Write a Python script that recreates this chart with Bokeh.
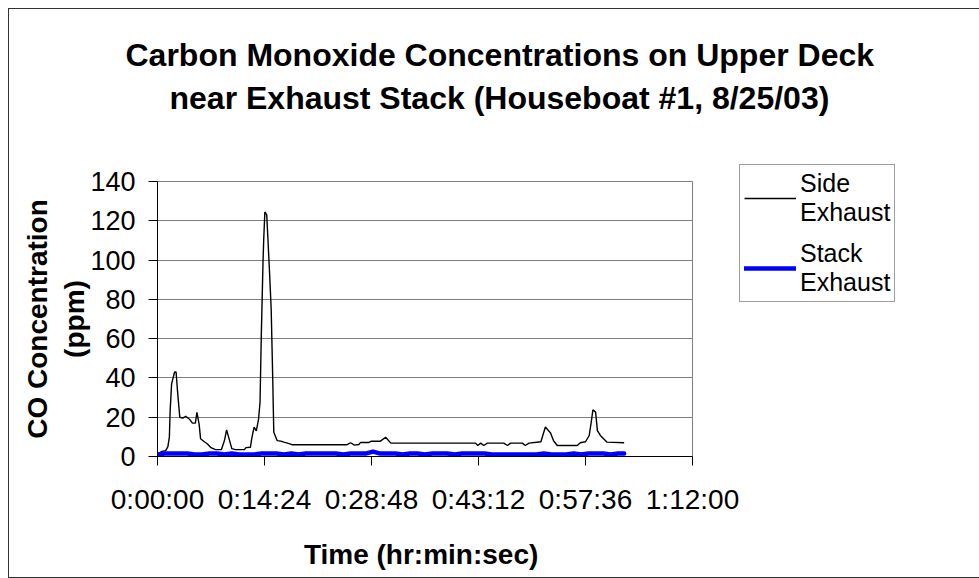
from bokeh.plotting import figure
from bokeh.models import Range1d, FixedTicker, Legend, LegendItem, Title
from bokeh.embed import file_html
from bokeh.resources import INLINE

# ---- data (time in minutes since start, CO in ppm) ----
side_time = [0.4, 1.1, 1.4, 1.6, 1.7, 1.9, 2.1, 2.3, 2.5, 2.7, 3.0, 3.4, 3.8, 4.3, 4.7,
             5.1, 5.3, 5.6, 5.8, 6.3, 6.7, 7.2, 7.8, 8.6, 9.0, 9.3, 9.6, 10.0, 10.5,
             11.7, 11.9, 12.5, 12.7, 13.0, 13.3, 13.6, 13.8, 13.96, 14.2, 14.3, 14.45,
             14.7, 14.85, 15.1, 15.3, 15.5, 15.65, 16.1, 16.6, 17.0, 17.5, 18.1, 25.5,
             26.0, 26.5, 27.1, 27.3, 28.4, 28.8, 30.0, 30.7, 31.4, 42.8, 43.1, 43.5,
             43.9, 44.4, 46.6, 47.1, 47.5, 49.1, 49.5, 50.0, 51.6, 52.2, 52.9, 53.3,
             53.8, 56.5, 56.9, 57.6, 58.1, 58.4, 58.6, 58.96, 59.2, 59.6, 60.5, 62.8]
side_ppm = [2.5, 3.0, 5.0, 10, 23, 37, 40, 43, 43, 33, 20, 19.5, 20.5, 19, 17,
            17, 22.5, 16.5, 9, 7.5, 6.5, 4.5, 3.5, 3.6, 8, 13.5, 9.5, 4, 3.5,
            3.5, 4.5, 4.7, 9.5, 15, 13, 19, 27.6, 60, 99, 111, 124.5,
            123, 111.6, 92, 75, 41, 12.4, 8.1, 7.8, 7.3, 6.8, 6.0, 6.0,
            7.0, 5.8, 6.1, 7.1, 7.1, 7.8, 7.8, 9.8, 6.8, 6.8, 5.6, 6.8,
            5.6, 6.8, 6.8, 5.6, 6.8, 6.8, 5.6, 6.8, 7.5, 15, 12, 8,
            5.6, 5.6, 7.0, 7.5, 10.7, 18.3, 23.8, 22.6, 13.2, 10.7, 7.3, 7.0]

stack_time = [0, 1, 2, 3, 4, 5, 6, 7, 8, 9, 10, 11, 12, 13, 14, 15, 16, 17, 18, 19, 20,
              21, 22, 23, 24, 25, 26, 27, 28, 29, 30, 31, 32, 33, 34, 35, 36, 37, 38, 39,
              40, 41, 42, 43, 44, 45, 46, 47, 48, 49, 50, 51, 52, 53, 54, 55, 56, 57, 58,
              59, 60, 61, 62, 62.8]
stack_ppm = [1, 1.5, 1.5, 1.5, 1.5, 1, 1, 1.5, 1.5, 1, 1.5, 1, 1, 1, 1.5, 1.5, 1.5, 1, 1.5, 1, 1.5,
             1.5, 1.5, 1.5, 1.5, 1, 1.5, 1.5, 1.5, 2.5, 1.5, 1.5, 1.5, 1, 1.5, 1.5, 1, 1.5, 1.5, 1.5,
             1, 1.5, 1.5, 1.5, 1.5, 1, 1, 1, 1, 1, 1, 1, 1.5, 1, 1, 1, 1.5, 1, 1.5,
             1.5, 1.5, 1, 1.5, 1.5]

x_ticks = [0, 14.4, 28.8, 43.2, 57.6, 72]
x_tick_labels = ["0:00:00", "0:14:24", "0:28:48", "0:43:12", "0:57:36", "1:12:00"]
y_ticks = [0, 20, 40, 60, 80, 100, 120, 140]

title_lines = ["Carbon Monoxide Concentrations on Upper Deck",
               "near Exhaust Stack (Houseboat #1, 8/25/03)"]
series_names = ["Side\nExhaust", "Stack\nExhaust"]

FONT = "Liberation Sans"

p = figure(frame_width=535, frame_height=275, output_backend="svg", toolbar_location=None,
           title=None,
           x_range=Range1d(0, 72), y_range=Range1d(0, 140),
           min_border_left=148, min_border_right=286, min_border_top=172,
           min_border_bottom=121, background_fill_color="white",
           border_fill_color="white")
p.styles = {"border": "1px solid #333333", "margin-left": "8px", "margin-top": "8px"}
p.outline_line_color = "#808080"

p.xgrid.visible = False
p.ygrid.grid_line_color = "#808080"
p.ygrid.grid_line_width = 1

for ax in (p.xaxis[0], p.yaxis[0]):
    ax.axis_line_color = "black"
    ax.major_tick_line_color = "black"
    ax.minor_tick_line_color = None
    ax.major_tick_in = 0
    ax.major_tick_out = 9
    ax.major_label_text_font = FONT
    ax.major_label_text_color = "black"
    ax.axis_label_text_font = FONT
    ax.axis_label_text_font_size = "28px"
    ax.axis_label_text_font_style = "bold"
    ax.axis_label_text_color = "black"

p.xaxis.ticker = FixedTicker(ticks=x_ticks)
p.xaxis.major_label_overrides = dict(zip(x_ticks, x_tick_labels))
p.xaxis.major_label_text_font_size = "28px"
p.xaxis.axis_label = "Time  (hr:min:sec)"
p.xaxis.major_label_standoff = 18
p.xaxis.axis_label_standoff = 21

p.yaxis.ticker = FixedTicker(ticks=y_ticks)
p.yaxis.major_label_text_font_size = "27px"
p.yaxis.axis_label = "CO Concentration\n(ppm)"
p.yaxis.major_label_standoff = 13
p.yaxis.axis_label_standoff = -3

r_side = p.line(side_time, side_ppm, line_color="black", line_width=1.4)
r_stack = p.line(stack_time, stack_ppm, line_color="#0000FF", line_width=4.5,
                 line_join="round", line_cap="round")

legend = Legend(items=[LegendItem(label=series_names[0], renderers=[r_side]),
                       LegendItem(label=series_names[1], renderers=[r_stack])],
                location=(47, 154), margin=0, padding=4, spacing=12,
                glyph_width=52, label_standoff=4,
                label_text_font=FONT, label_text_font_size="25px",
                label_text_color="black",
                border_line_color="#404040", border_line_width=1,
                background_fill_color="white")
p.add_layout(legend, "right")

spacer = Title(text=" ", text_font_size="1px", standoff=63)
t2 = Title(text=title_lines[1], align="left", offset=12, standoff=0,
           text_font=FONT, text_font_size="32px", text_font_style="bold",
           text_color="black")
t1 = Title(text=title_lines[0], align="left", offset=-32, standoff=9,
           text_font=FONT, text_font_size="32px", text_font_style="bold",
           text_color="black")
p.add_layout(spacer, "above")
p.add_layout(t2, "above")
p.add_layout(t1, "above")

open("out.html", "w").write(file_html(p, INLINE))
